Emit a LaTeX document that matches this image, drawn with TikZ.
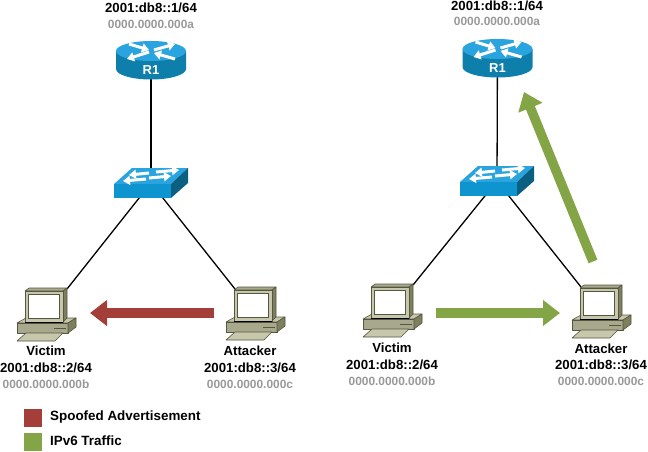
\documentclass[tikz,border=0pt]{standalone}
\usepackage{fontspec}
\setmainfont{Liberation Sans}
\usetikzlibrary{arrows.meta}

\definecolor{ciscotop}{HTML}{2AA4DE}
\definecolor{ciscoside}{HTML}{0E7FAB}
\definecolor{ciscofront}{HTML}{0E95D0}
\definecolor{ciscodark}{HTML}{0B5F80}
\definecolor{pcface}{HTML}{C6C7AB}
\definecolor{pcside}{HTML}{7E7F5E}
\definecolor{pcmid}{HTML}{A8A98C}
\definecolor{pcedge}{HTML}{55563F}
\definecolor{macgray}{HTML}{999999}
\definecolor{spoofred}{HTML}{A33F38}
\definecolor{trafficgreen}{HTML}{84A546}

\tikzset{
    hostlabel/.style={font=\fontsize{13.2}{16.5}\selectfont\bfseries, align=center, inner sep=0pt},
    maclabel/.style={font=\fontsize{11.9}{14}\selectfont\bfseries, text=macgray, inner sep=0pt},
    legendlabel/.style={font=\fontsize{13.4}{16}\selectfont\bfseries, anchor=west, inner sep=0pt},
    legendbox/.style={minimum size=18pt, inner sep=0pt},
    link/.style={black, line width=1.3pt},
    flow/.style={line width=9.5pt, -{Triangle[width=25pt,length=17pt]}},
    whitearrow/.style={white, line width=3pt, -{Triangle[width=9pt,length=7pt]}},
    pcpart/.style={draw=pcedge, line width=0.6pt, line join=round},
    router/.pic={
        % body
        \fill[ciscoside] (-35,0) -- (-35,18) arc[start angle=180, end angle=0, x radius=35, y radius=10.5] -- (35,0) -- cycle;
        \fill[ciscotop] (0,0) ellipse[x radius=35, y radius=10];
        % arrows
        \draw[whitearrow] (-22,-7) -- (-2,-1);
        \draw[whitearrow] (3,-1) -- (24,-7);
        \draw[whitearrow] (-2,1) -- (-24,8);
        \draw[whitearrow] (24,8) -- (3,2);
        \node[text=white, font=\fontsize{13}{14}\selectfont\bfseries] at (0,19) {R1};
    },
    switchbox/.pic={
        % faces
        \fill[ciscotop] (-37,1) -- (-19,-15) -- (37,-15) -- (20,1) -- cycle;
        \fill[ciscofront] (-37,1) rectangle (20,15);
        \fill[ciscodark] (20,1) -- (37,-15) -- (37,0) -- (20,15) -- cycle;
        % arrows
        \draw[whitearrow] (-2,-10) -- (-22,-8);
        \draw[whitearrow] (5,-11) -- (28,-13);
        \draw[whitearrow] (-5,-4) -- (-28,-2);
        \draw[whitearrow] (-2,-5) -- (20,-7);
    },
    desktop/.pic={
        % base
        \fill[pcface, pcpart] (-8,32) -- (1,27) -- (51,27) -- (43,32) -- cycle;
        \fill[pcmid, pcpart] (-8,32) rectangle (43,42);
        \fill[pcside, pcpart] (43,32) -- (51,27) -- (51,36) -- (43,42) -- cycle;
        \draw[pcedge, line width=0.8pt] (29,37) -- (41,37);
        % monitor
        \fill[pcmid, pcpart] (0,0) -- (4,-3) -- (42,-3) -- (38,0) -- cycle;
        \fill[pcside, pcpart] (38,0) -- (42,-3) -- (42,27) -- (38,31) -- cycle;
        \fill[pcface, pcpart] (0,0) rectangle (38,31);
        \fill[white, draw=pcedge, line width=0.9pt] (3.5,3.5) rectangle (34.5,27.5);
        \draw[black, line width=1pt] (0,31) -- (38,31);
        % keyboard
        \fill[pcface, pcpart] (-8,50) -- (1,42) -- (38,42) -- (30,50) -- cycle;
    }
}

\begin{document}
\begin{tikzpicture}[x=1pt, y=-1pt]
    \useasboundingbox (0,0) rectangle (648,451);

    % left network
    \coordinate (routerL) at (151,51);
    \coordinate (switchL) at (151,183);
    \coordinate (victimL) at (67,289);
    \coordinate (attackerL) at (235,289);

    \draw[link] (routerL) -- (switchL);
    \draw[link] (switchL) -- (victimL);
    \draw[link] (switchL) -- (attackerL);

    \pic at (routerL) {router};
    \pic at (switchL) {switchbox};
    \pic at (25,291) {desktop};
    \pic at (234,290) {desktop};

    \node[hostlabel] (routerLname) at (151,8) {2001:db8::1/64};
    \node[maclabel] (routerLmac) at (151,24) {0000.0000.000a};
    \node[hostlabel] (victimLname) at (46,359.5) {Victim\\2001:db8::2/64};
    \node[maclabel] (victimLmac) at (46,384) {0000.0000.000b};
    \node[hostlabel] (attackerLname) at (250,359.5) {Attacker\\2001:db8::3/64};
    \node[maclabel] (attackerLmac) at (250,384) {0000.0000.000c};

    \coordinate (spoofstart) at (214,313);
    \coordinate (spoofend) at (90,313);
    \draw[flow, spoofred] (spoofstart) -- (spoofend);

    % right network
    \coordinate (routerR) at (497.5,49);
    \coordinate (switchR) at (497,181);
    \coordinate (victimR) at (413,285);
    \coordinate (attackerR) at (581,287);

    \draw[link] (routerR) -- (switchR);
    \draw[link] (switchR) -- (victimR);
    \draw[link] (switchR) -- (attackerR);

    \pic at (routerR) {router};
    \pic at (switchR) {switchbox};
    \pic at (371,287) {desktop};
    \pic at (580,288) {desktop};

    \node[hostlabel] (routerRname) at (497,5.5) {2001:db8::1/64};
    \node[maclabel] (routerRmac) at (497,21) {0000.0000.000a};
    \node[hostlabel] (victimRname) at (392,356.5) {Victim\\2001:db8::2/64};
    \node[maclabel] (victimRmac) at (392,381) {0000.0000.000b};
    \node[hostlabel] (attackerRname) at (601,357) {Attacker\\2001:db8::3/64};
    \node[maclabel] (attackerRmac) at (601,381.5) {0000.0000.000c};

    \coordinate (trafficstart) at (436,313);
    \coordinate (trafficend) at (560,313);
    \draw[flow, trafficgreen] (trafficstart) -- (trafficend);
    \coordinate (uplinkstart) at (593,261.5);
    \coordinate (uplinkend) at (524,92);
    \draw[flow, trafficgreen] (uplinkstart) -- (uplinkend);

    % legend
    \node[legendbox, fill=spoofred] (spoofbox) at (33,417.5) {};
    \node[legendlabel] (spooflabel) at (50,417) {Spoofed Advertisement};
    \node[legendbox, fill=trafficgreen] (trafficbox) at (33,441.5) {};
    \node[legendlabel] (trafficlabel) at (50,441) {IPv6 Traffic};
\end{tikzpicture}
\end{document}
